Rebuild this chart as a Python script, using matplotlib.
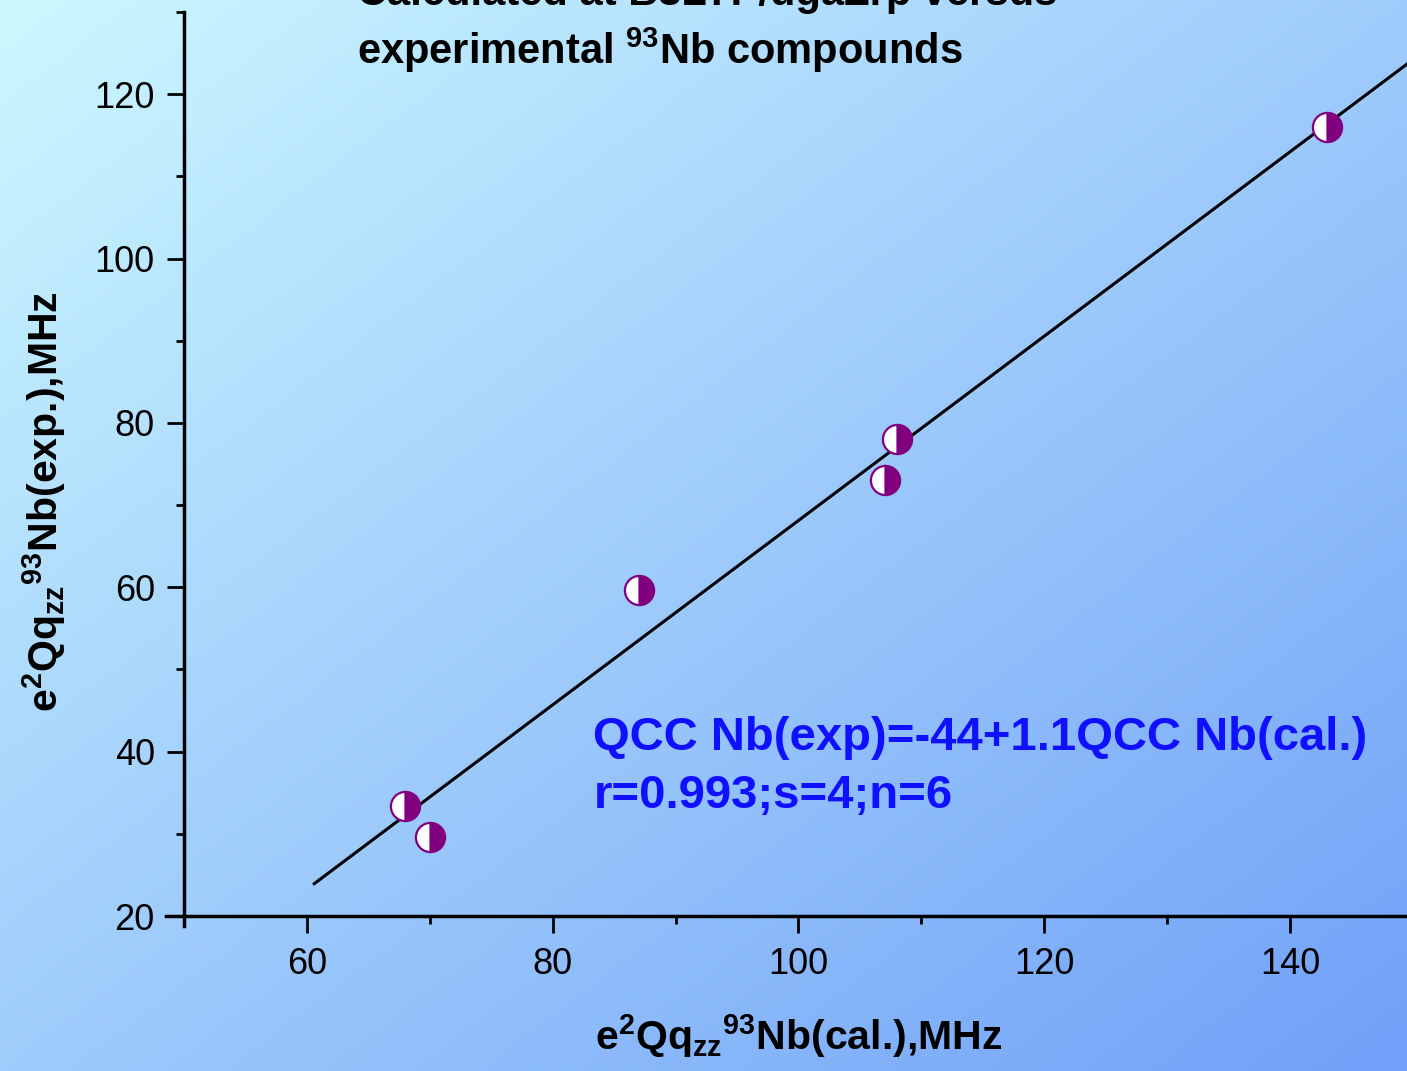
import numpy as np
import matplotlib
matplotlib.use("Agg")
import matplotlib.pyplot as plt
from matplotlib.ticker import MultipleLocator

plt.rcParams['font.family'] = ['Liberation Sans', 'DejaVu Sans']
plt.rcParams['mathtext.fontset'] = 'custom'
plt.rcParams['mathtext.rm'] = 'Liberation Sans'
plt.rcParams['mathtext.bf'] = 'Liberation Sans:bold'

# 93Nb quadrupole coupling constants (MHz)
qcc_cal = [68, 70, 87, 107, 108, 143]
qcc_exp = [33.4, 29.6, 59.7, 73.0, 78.0, 116.0]

x_ticks = [60, 80, 100, 120, 140]
y_ticks = [20, 40, 60, 80, 100, 120]

W, H = 1407, 1071
fig = plt.figure(figsize=(W / 100, H / 100), dpi=100)

# diagonal light-cyan -> blue background
bg = fig.add_axes([0, 0, 1, 1], zorder=-1)
gx, gy = np.meshgrid(np.linspace(0, 1, 300), np.linspace(0, 1, 240))
t = (gx + gy) / 2
c0 = np.array([205, 248, 255]) / 255
c1 = np.array([112, 160, 248]) / 255
grad = c0 * (1 - t[..., None]) + c1 * t[..., None]
bg.imshow(grad, aspect='auto', extent=[0, 1, 0, 1], origin='upper')
bg.axis('off')

ax = fig.add_axes([184 / W, 155 / H, 1229 / W, 904 / H])
ax.patch.set_alpha(0)

# linear fit
slope, icpt = np.polyfit(qcc_cal, qcc_exp, 1)
xf = np.array([60.6, 150])
ax.plot(xf, icpt + slope * xf, color='black', lw=2.2, zorder=2)

ax.plot(qcc_cal, qcc_exp, ls='none', marker='o', ms=21, fillstyle='right',
        markerfacecolor='#800080', markerfacecoloralt='white',
        markeredgecolor='#800080', markeredgewidth=1.6, zorder=3)

ax.set_xlim(50, 150)
ax.set_ylim(20, 130)
ax.set_xticks(x_ticks)
ax.set_yticks(y_ticks)
ax.xaxis.set_minor_locator(MultipleLocator(10))
ax.yaxis.set_minor_locator(MultipleLocator(10))

for side in ['top', 'right']:
    ax.spines[side].set_visible(False)
ax.spines['left'].set_linewidth(2.5)
ax.spines['bottom'].set_linewidth(2.5)
ax.spines['left'].set_bounds(18.8, 130)
ax.spines['bottom'].set_bounds(48.5, 150)

ax.tick_params(which='major', length=12, width=2, labelsize=26, pad=9,
               direction='out')
ax.tick_params(which='minor', length=6, width=2, direction='out')
ax.tick_params(axis='x', pad=10)

bold = dict(fontweight='bold', fontsize=29.5)
ax.set_xlabel(r'e$^{\mathbf{2}}$Qq$_{\mathbf{zz}}$$^{\mathbf{93}}$Nb(cal.),MHz',
              **bold)
ax.set_ylabel(r'e$^{\mathbf{2}}$Qq$_{\mathbf{zz}}$$^{\mathbf{93}}$Nb(exp.),MHz',
              **bold)
ax.xaxis.set_label_coords(0.5, -0.106)
ax.yaxis.set_label_coords(-0.094, 0.458)

fig.text(357 / W, 1 - 5 / H, 'Calculated at B3LYP/ugaZrp versus',
         fontsize=30, fontweight='bold', va='baseline')
fig.text(357 / W, 1 - 64 / H, r'experimental $^{\mathbf{93}}$Nb compounds',
         fontsize=30, fontweight='bold', va='baseline')

ax.text(83.3, 40.2, 'QCC Nb(exp)=-44+1.1QCC Nb(cal.)', color='#1010ff',
        fontsize=34, fontweight='bold', va='baseline')
ax.text(83.3, 33.1, 'r=0.993;s=4;n=6', color='#1010ff',
        fontsize=34, fontweight='bold', va='baseline')

fig.savefig('out.png', dpi=100)
